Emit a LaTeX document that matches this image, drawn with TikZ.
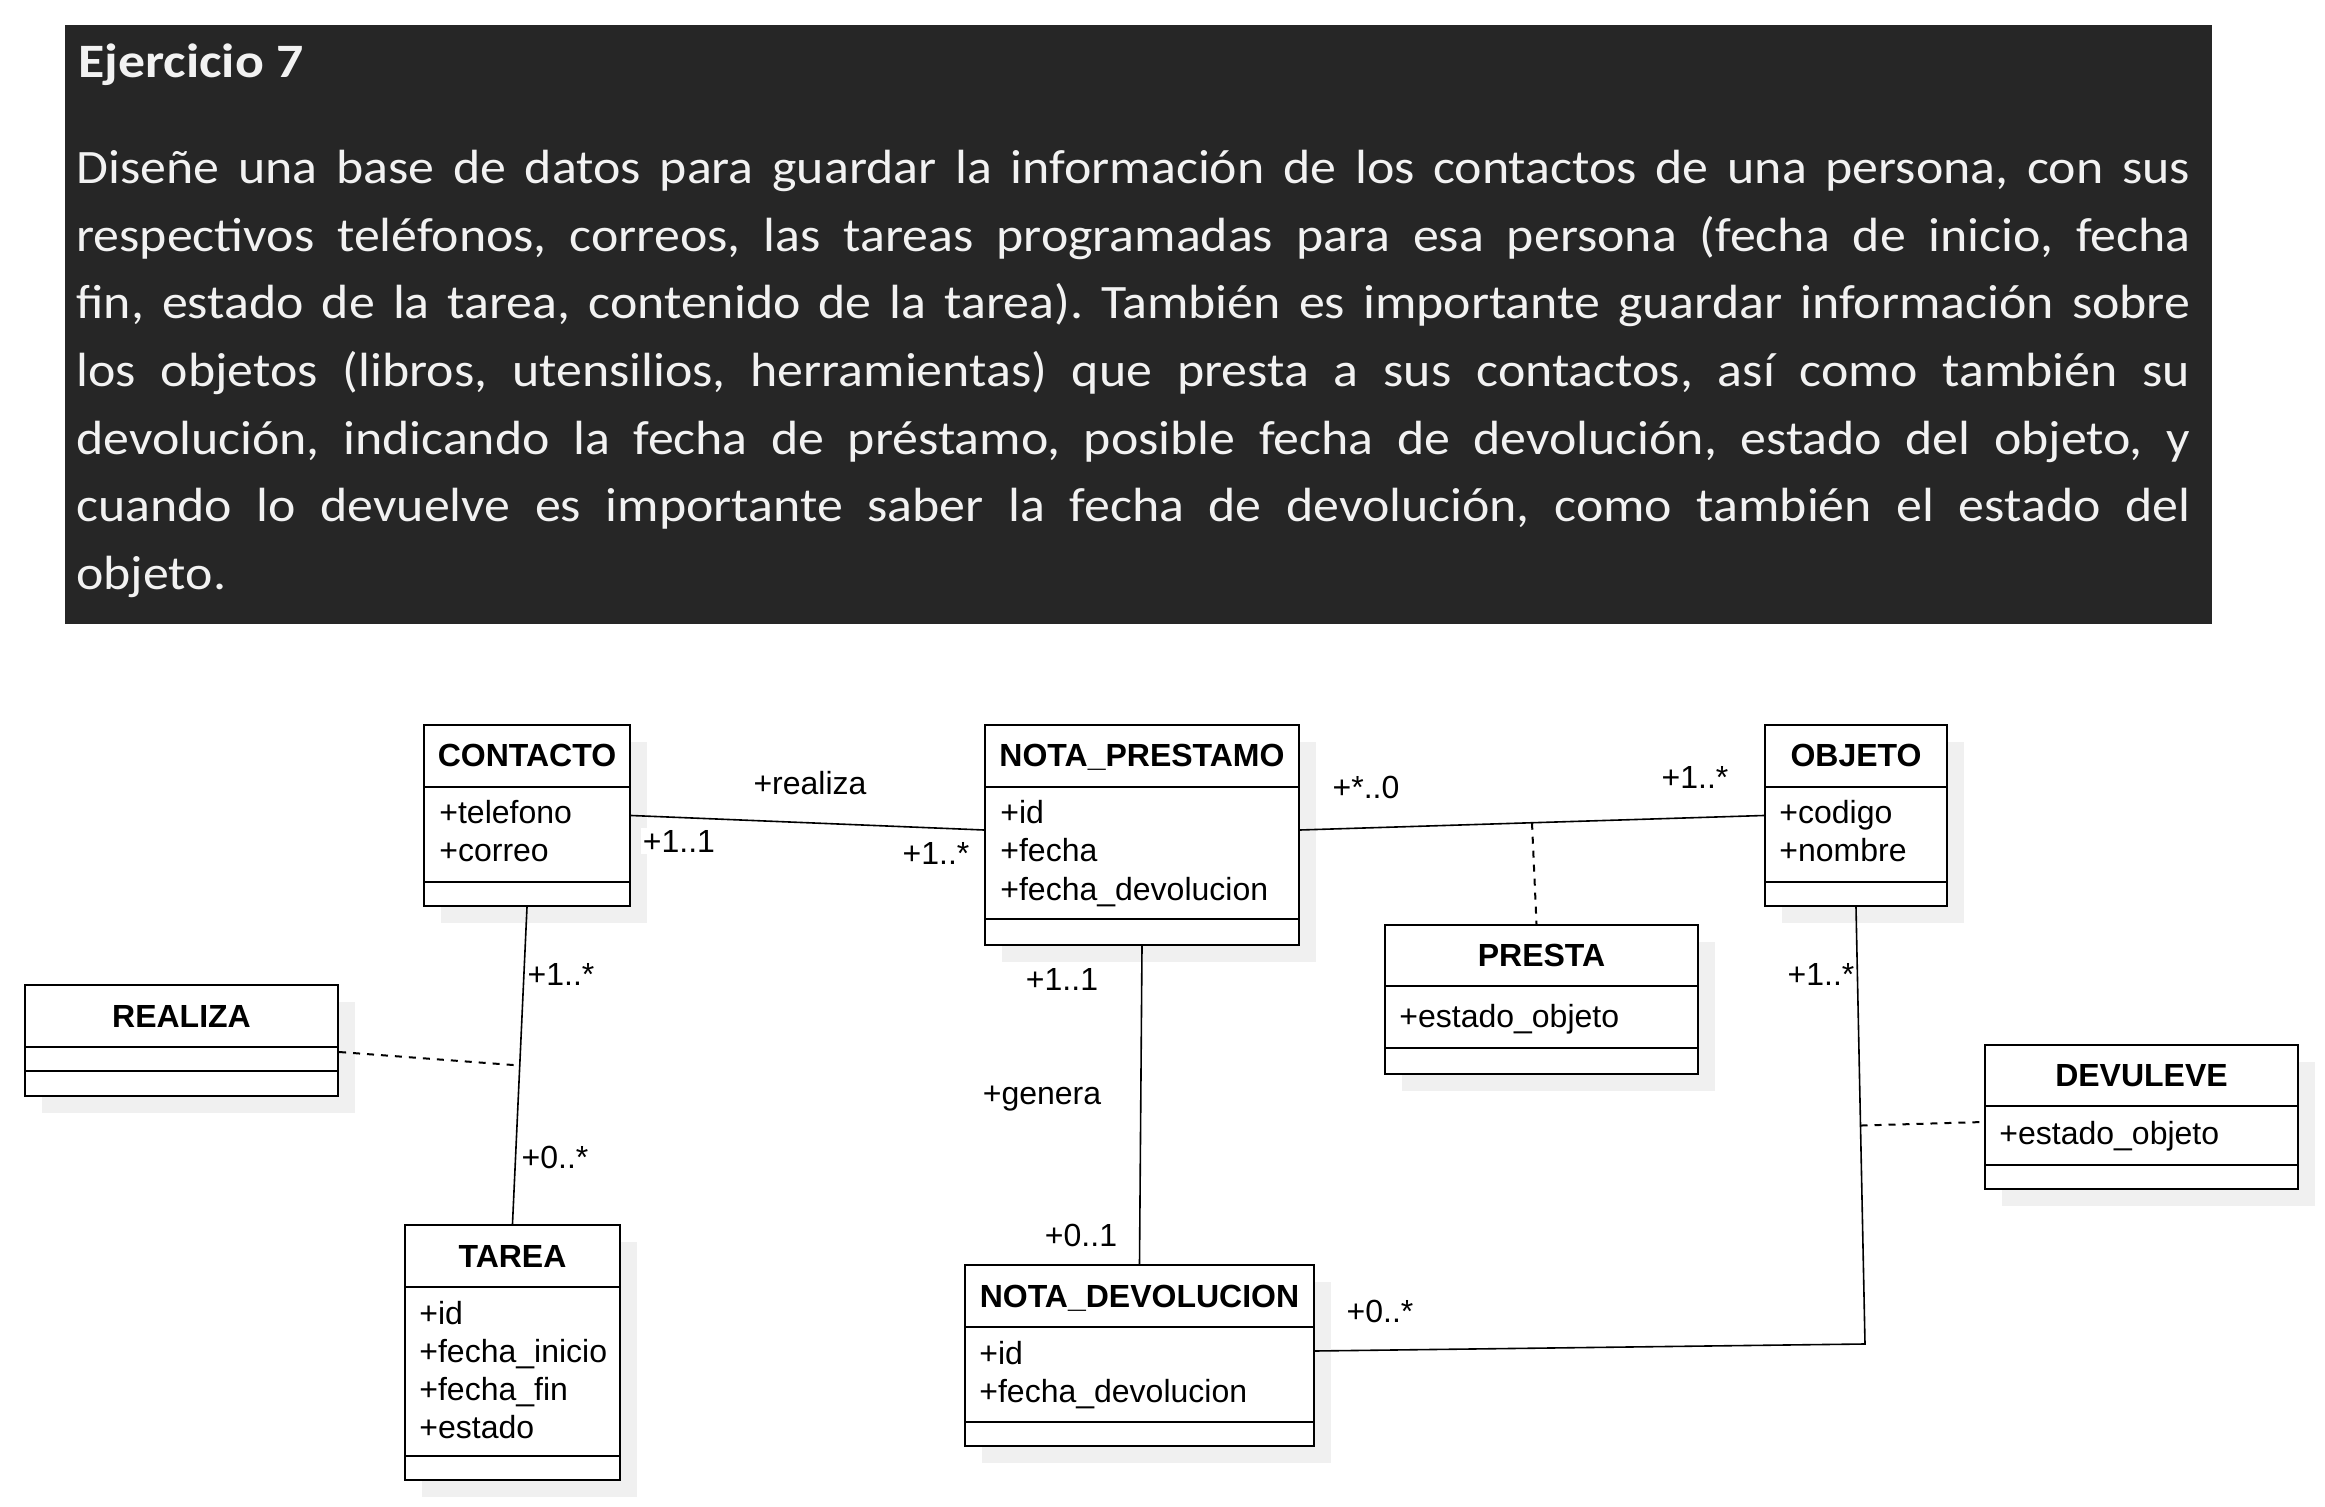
\documentclass[tikz,border=0pt]{standalone}
\usepackage{fontspec}
\setmainfont{Liberation Sans}
\newfontfamily\calfont[FakeStretch=1.08]{Carlito}
\newfontfamily\titlefont[FakeStretch=1.12]{Carlito}
\usetikzlibrary{fit}
\frenchspacing
\definecolor{panelbg}{HTML}{262626}
\definecolor{paneltext}{HTML}{F2F2F2}
\definecolor{shadowc}{HTML}{F0F0F0}
\tikzset{
  classbox/.style={draw=black, line width=1.1pt, fill=white, inner sep=0pt},
  divider/.style={line width=1.1pt},
  headtext/.style={anchor=base, inner sep=0pt, font=\bfseries\fontsize{16}{19}\selectfont},
  attr/.style={anchor=base west, inner sep=0pt, font=\fontsize{16}{19}\selectfont},
  lbl/.style={inner sep=1pt, font=\fontsize{16}{19}\selectfont},
  lblw/.style={lbl, fill=white},
  conn/.style={line width=0.8pt},
  dashconn/.style={line width=1pt, dash pattern=on 3.5pt off 3.5pt},
}
% #1 id, #2 x1, #3 y1, #4 x2, #5 y2, #6 header line y, #7 attribute line y, #8 title
\newcommand\umlclass[8]{%
  \fill[shadowc] ({#2+17},{#3+17}) rectangle ({#4+17},{#5+17});
  \node[classbox, fit={(#2,#3) (#4,#5)}] (#1) {};
  \draw[divider] (#2,#6) -- (#4,#6);
  \draw[divider] (#2,#7) -- (#4,#7);
  \node[headtext] (#1-title) at ({(#2+#4)/2},{#6-20}) {#8};
}
\begin{document}
\begin{tikzpicture}[x=0.5pt, y=-0.5pt]
\useasboundingbox (0,0) rectangle (2325,1507);
\fill[white] (0,0) rectangle (2325,1507);

% exercise panel
\node[fill=panelbg, inner sep=0pt, fit={(65,25) (2212,624)}] (panel) {};
\node[anchor=base west, inner sep=0pt, text=paneltext] (title) at (78,78)
  {\titlefont\bfseries\fontsize{24}{30}\selectfont Ejercicio 7};
\node[anchor=base west, inner sep=0pt, text=paneltext] (body) at (76,183.5) {%
\begin{minipage}[t]{1057pt}\calfont\fontsize{24}{33.85}\selectfont\parindent=0pt\frenchspacing
Diseñe una base de datos para guardar la información de los contactos de una persona, con sus\linebreak
respectivos teléfonos, correos, las tareas programadas para esa persona (fecha de inicio, fecha\linebreak
fin, estado de la tarea, contenido de la tarea). También es importante guardar información sobre\linebreak
los objetos (libros, utensilios, herramientas) que presta a sus contactos, así como también su\linebreak
devolución, indicando la fecha de préstamo, posible fecha de devolución, estado del objeto, y\linebreak
cuando lo devuelve es importante saber la fecha de devolución, como también el estado del\linebreak
objeto.
\end{minipage}};

% classes
\umlclass{contacto}{424}{725}{630}{906}{787}{882}{CONTACTO}
\node[attr] (contacto-a1) at (439,824) {+telefono};
\node[attr] (contacto-a2) at (439,862) {+correo};

\umlclass{notap}{985}{725}{1299}{945}{787}{919}{NOTA\_PRESTAMO}
\node[attr] (notap-a1) at (1000,824) {+id};
\node[attr] (notap-a2) at (1000,862) {+fecha};
\node[attr] (notap-a3) at (1000,900) {+fecha\_devolucion};

\umlclass{objeto}{1765}{725}{1947}{906}{787}{882}{OBJETO}
\node[attr] (objeto-a1) at (1779,824) {+codigo};
\node[attr] (objeto-a2) at (1779,862) {+nombre};

\umlclass{realiza}{25}{985}{338}{1096}{1047}{1071}{REALIZA}

\umlclass{presta}{1385}{925}{1698}{1074}{986}{1048}{PRESTA}
\node[attr] (presta-a1) at (1399,1028) {+estado\_objeto};

\umlclass{devuelve}{1985}{1045}{2298}{1189}{1106}{1165}{DEVULEVE}
\node[attr] (devuelve-a1) at (1999,1144) {+estado\_objeto};

\umlclass{tarea}{405}{1225}{620}{1480}{1287}{1456}{TAREA}
\node[attr] (tarea-a1) at (419,1324) {+id};
\node[attr] (tarea-a2) at (419,1362) {+fecha\_inicio};
\node[attr] (tarea-a3) at (419,1400) {+fecha\_fin};
\node[attr] (tarea-a4) at (419,1438) {+estado};

\umlclass{nd}{965}{1265}{1314}{1446}{1327}{1422}{NOTA\_DEVOLUCION}
\node[attr] (nd-a1) at (979,1364) {+id};
\node[attr] (nd-a2) at (979,1402) {+fecha\_devolucion};

% connectors
\draw[conn] (contacto.east) -- ([yshift=2.5pt]notap.west);
\draw[conn] ([yshift=2.5pt]notap.east) -- coordinate[pos=0.5] (pm) (objeto.west);
\draw[dashconn] (pm) -- ([xshift=-2.5pt]presta.north);
\draw[conn] (contacto.south) -- coordinate[pos=0.5] (cm) (tarea.north);
\draw[dashconn] ([yshift=-5.75pt]realiza.east) -- (cm);
\draw[conn] (notap.south) -- (nd.north);
\coordinate (ebend) at (1865,1344);
\draw[conn] (objeto.south) -- coordinate[pos=0.5] (om) (ebend) -- ([yshift=2.25pt]nd.east);
\draw[dashconn] (om) -- ([yshift=-2.5pt]devuelve.west);

% labels
\node[lbl] (l-realiza) at (810,783) {+realiza};
\node[lblw] (l-c11) at (679,841) {+1..1};
\node[lbl] (l-np1) at (936,853) {+1..*};
\node[lbl] (l-np0) at (1366,787) {+*..0};
\node[lbl] (l-ob1) at (1695,777) {+1..*};
\node[lbl] (l-ct1) at (561,974) {+1..*};
\node[lbl] (l-ta0) at (555,1157) {+0..*};
\node[lbl] (l-np11) at (1062,979) {+1..1};
\node[lbl] (l-genera) at (1042,1099) {+genera};
\node[lbl] (l-nd01) at (1081,1235) {+0..1};
\node[lbl] (l-ob1b) at (1821,974) {+1..*};
\node[lbl] (l-nd0) at (1380,1311) {+0..*};
\end{tikzpicture}
\end{document}
